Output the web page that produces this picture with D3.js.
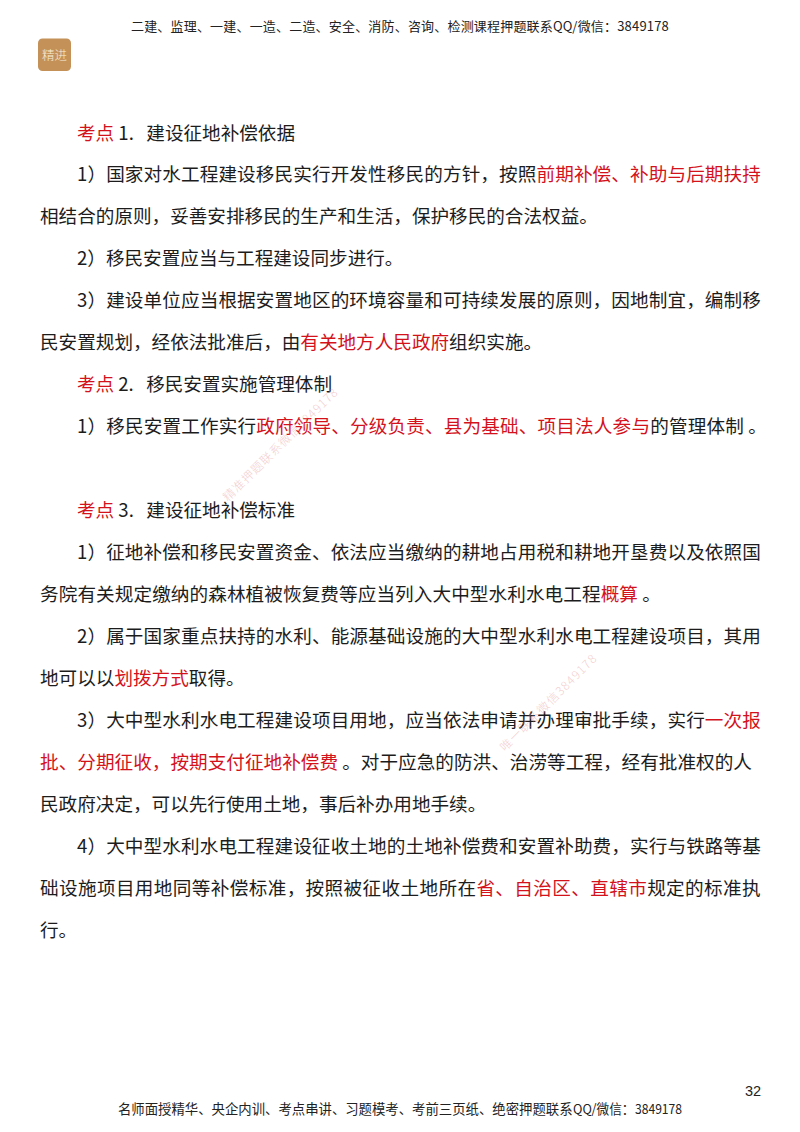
<!DOCTYPE html>
<html><head><meta charset="utf-8">
<script src="https://cdnjs.cloudflare.com/ajax/libs/d3/7.8.5/d3.min.js"></script>
<style>html,body{margin:0;padding:0;background:#fff}svg{display:block}</style></head>
<body><svg id="page" width="800" height="1132"></svg>
<script>
const headerText = "二建、监理、一建、一造、二造、安全、消防、咨询、检测课程押题联系QQ/微信：3849178";
// footer pieces: text, left, right
const footerPieces = [
  ["名师面授精华、央企内训、考点串讲、习题模考、考前三页纸、绝密押题联系",118,572.5],
  ["QQ/微信：",573,634.5],
  ["3849178",635,682]
];
const pageNumber = "32";
const badgeText = "精进";
const watermarks = [
  {text:"精准押题联系微信3849178", x0:228, y0:502, x1:339, y1:393},
  {text:"唯一联系微信3849178", x0:505, y0:752, x1:598, y1:659}
];
// row, left, right (null = natural width), segments [text, isRed]
const rows = [
 [0,77,295,[["考点",1],[" 1.   建设征地补偿依据",0]]],
 [1,77,761,[["1）国家对水工程建设移民实行开发性移民的方针，按照",0],["前期补偿、补助与后期扶持",1]]],
 [2,40,null,[["相结合的原则，妥善安排移民的生产和生活，保护移民的合法权益。",0]]],
 [3,77,null,[["2）移民安置应当与工程建设同步进行。",0]]],
 [4,77,761,[["3）建设单位应当根据安置地区的环境容量和可持续发展的原则，因地制宜，编制移",0]]],
 [5,40,null,[["民安置规划，经依法批准后，由",0],["有关地方人民政府",1],["组织实施。",0]]],
 [6,77,332,[["考点",1],[" 2.   移民安置实施管理体制",0]]],
 [7,77,767,[["1）移民安置工作实行",0],["政府领导、分级负责、县为基础、项目法人参与",1],["的管理体制 。",0]]],
 [9,77,295,[["考点",1],[" 3.   建设征地补偿标准",0]]],
 [10,77,761,[["1）征地补偿和移民安置资金、依法应当缴纳的耕地占用税和耕地开垦费以及依照国",0]]],
 [11,40,661,[["务院有关规定缴纳的森林植被恢复费等应当列入大中型水利水电工程",0],["概算",1],[" 。",0]]],
 [12,77,761,[["2）属于国家重点扶持的水利、能源基础设施的大中型水利水电工程建设项目，其用",0]]],
 [13,40,null,[["地可以以",0],["划拨方式",1],["取得。",0]]],
 [14,77,761,[["3）大中型水利水电工程建设项目用地，应当依法申请并办理审批手续，实行",0],["一次报",1]]],
 [15,40,752,[["批、分期征收，按期支付征地补偿费",1],[" 。对于应急的防洪、治涝等工程，经有批准权的人",0]]],
 [16,40,null,[["民政府决定，可以先行使用土地，事后补办用地手续。",0]]],
 [17,77,761,[["4）大中型水利水电工程建设征收土地的土地补偿费和安置补助费，实行与铁路等基",0]]],
 [18,40,761,[["础设施项目用地同等补偿标准，按照被征收土地所在",0],["省、自治区、直辖市",1],["规定的标准执",0]]],
 [19,40,null,[["行。",0]]]
];
const svg = d3.select("#page");
const cjk = "'Noto Sans CJK SC','Noto Sans',sans-serif";
const rowY = d3.scaleLinear().domain([0,19]).range([139.5,936.5]);
const ink = "#1c1c1c", red = "#d3121c";

function fit(sel, target){
  sel.each(function(){
    const n = this.getNumberOfChars();
    const w = this.getComputedTextLength();
    d3.select(this).attr("letter-spacing", ((target-w)/n).toFixed(3));
  });
}

svg.append("text").text(headerText).attr("x",131).attr("y",30.5)
  .attr("font-family",cjk).attr("font-size",13).attr("fill","#222").call(fit,538);
svg.append("g").selectAll("text").data(footerPieces).join("text")
  .text(d=>d[0]).attr("x",d=>d[1]).attr("y",1114)
  .attr("textLength",d=>d[2]-d[1]).attr("lengthAdjust","spacingAndGlyphs")
  .attr("font-family",cjk).attr("font-size",13.4).attr("fill","#222");
svg.append("text").text(pageNumber).attr("x",745).attr("y",1095.5)
  .attr("font-family","'Liberation Sans',sans-serif").attr("font-size",14.5).attr("fill","#222");

const badge = svg.append("g");
badge.append("rect").attr("x",38).attr("y",38.5).attr("width",33).attr("height",32.5).attr("rx",4.5).attr("fill","#c49259");
badge.append("text").text(badgeText).attr("x",54.5).attr("y",59.5).attr("text-anchor","middle")
  .attr("font-family",cjk).attr("font-weight",300).attr("font-size",12.5).attr("fill","#f8ecd8");

const lines = svg.append("g").selectAll("text").data(rows).join("text")
  .attr("x",d=>d[1]).attr("y",d=>rowY(d[0]))
  .attr("font-family",cjk).attr("font-size",18.6).attr("fill",ink)
  .style("white-space","pre");
lines.selectAll("tspan").data(d=>d[3]).join("tspan").text(s=>s[0]).attr("fill",s=>s[1]?red:ink);
lines.filter(d=>d[2]!==null).each(function(d){ d3.select(this).call(fit,d[2]-d[1]); });

svg.append("g").selectAll("text").data(watermarks).join("text")
  .text(d=>d.text)
  .attr("transform",d=>`translate(${d.x0},${d.y0}) rotate(${Math.atan2(d.y1-d.y0,d.x1-d.x0)*180/Math.PI})`)
  .attr("font-family","'Noto Sans CJK SC',serif").attr("font-size",12).attr("font-weight",300)
  .attr("fill","#e89a9a").attr("fill-opacity",0.5)
  .each(function(d){ d3.select(this).call(fit,Math.hypot(d.x1-d.x0,d.y1-d.y0)); });
</script></body></html>
